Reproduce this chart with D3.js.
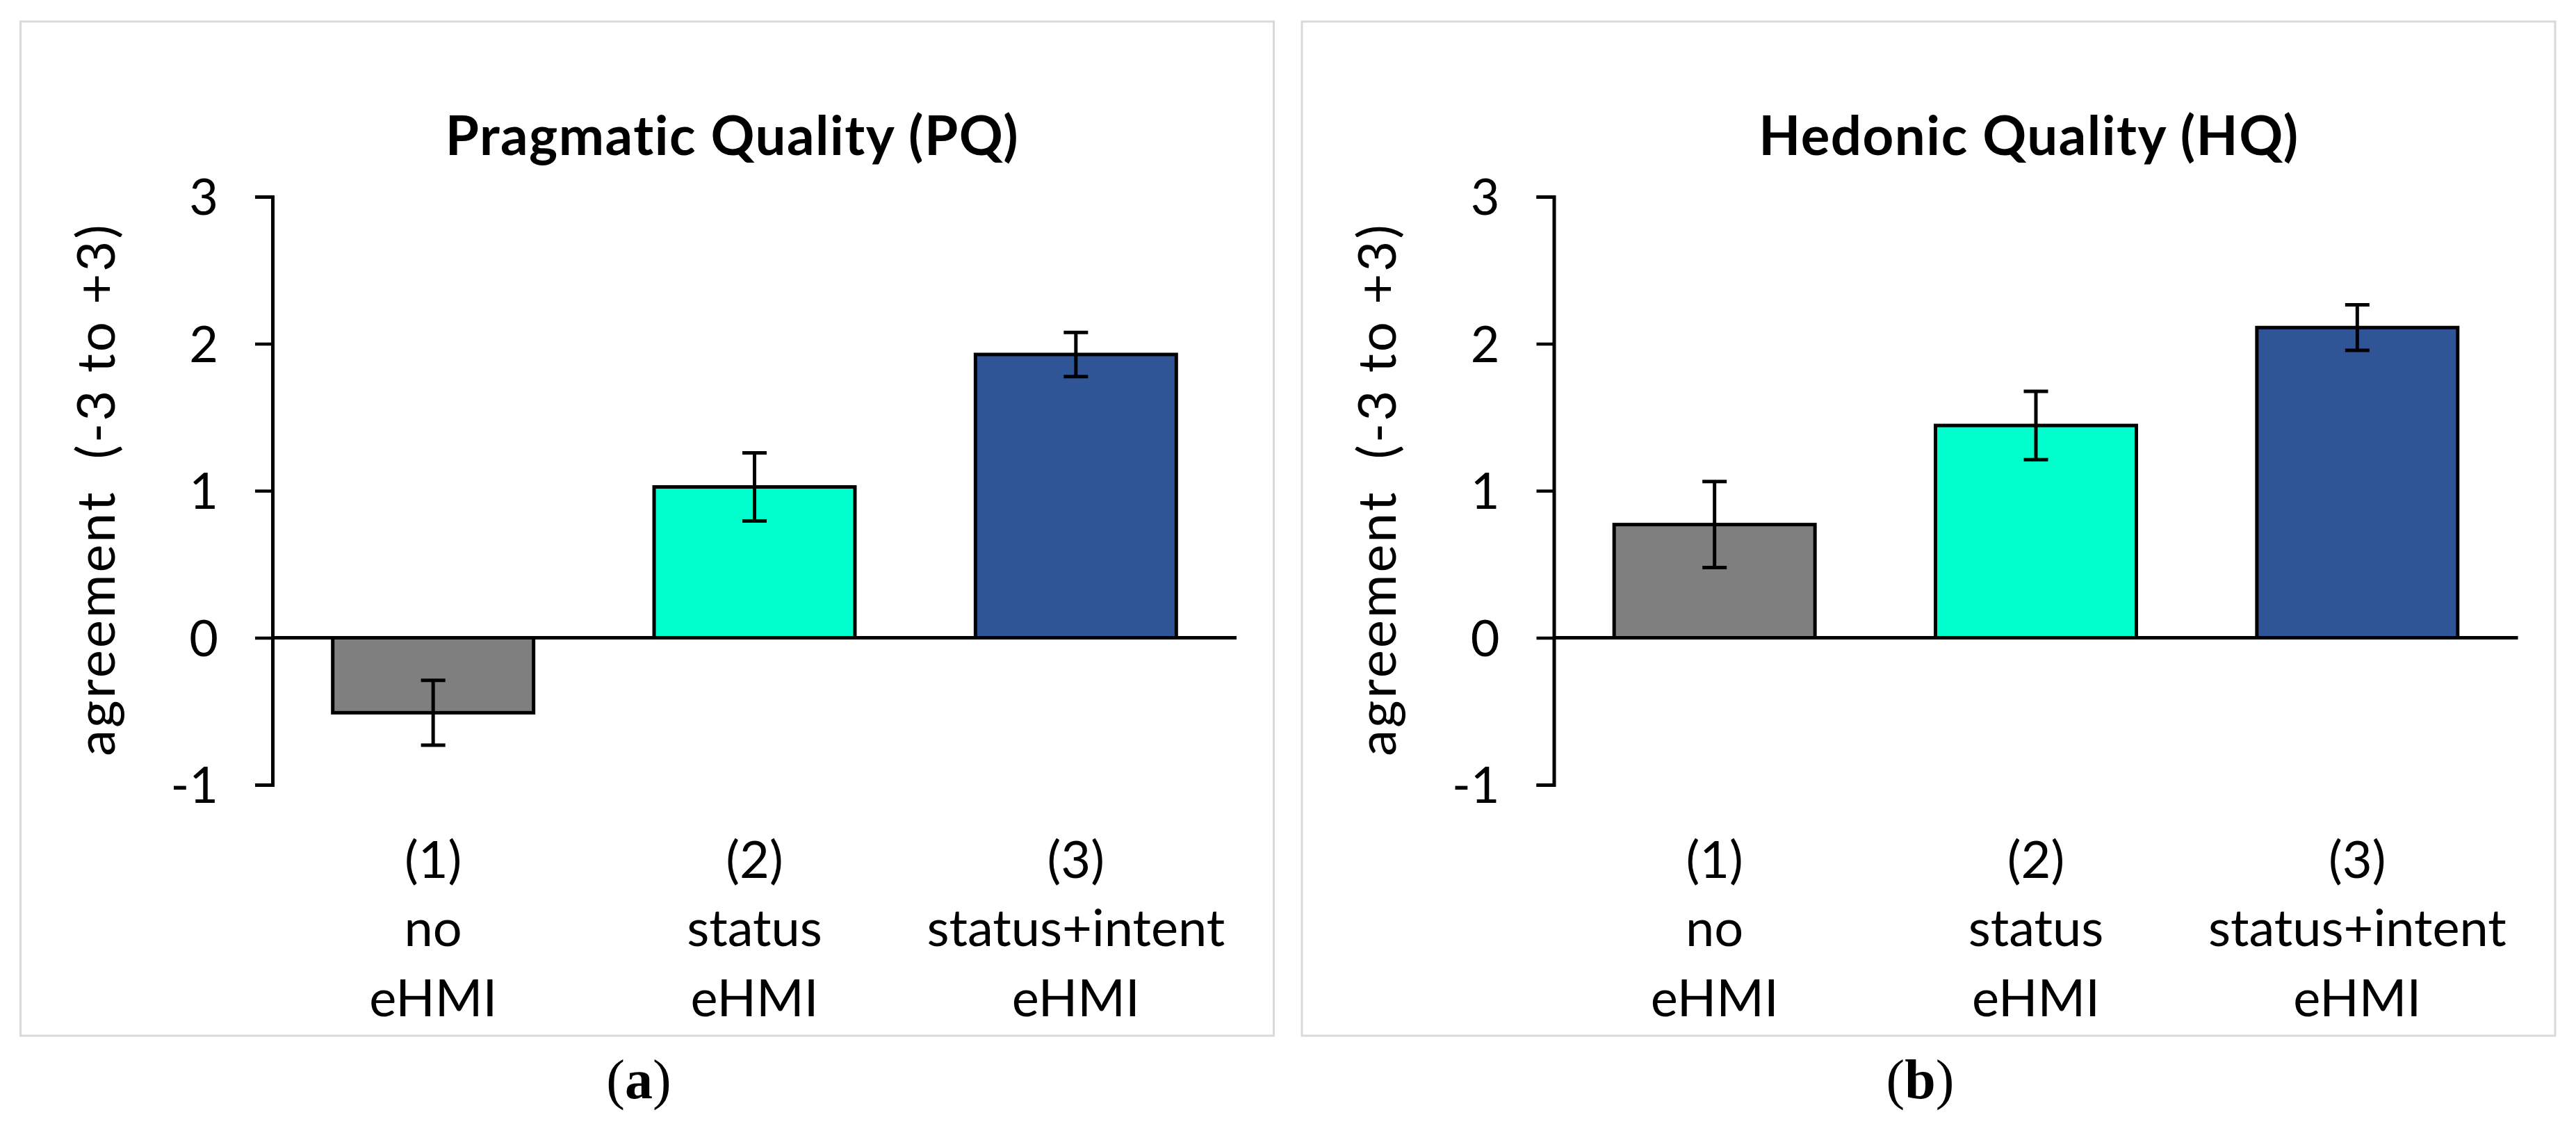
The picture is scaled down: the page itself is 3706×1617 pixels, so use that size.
<!DOCTYPE html>
<html>
<head>
<meta charset="utf-8">
<script src="https://cdn.jsdelivr.net/npm/d3@7"></script>
<style>
  html, body { margin: 0; padding: 0; background: #fff; }
  svg { display: block; }
</style>
</head>
<body>
<svg id="chart" width="3706" height="1617"></svg>
<script>
// ---- data ----
const categories = ["(1)|no|eHMI", "(2)|status|eHMI", "(3)|status+intent|eHMI"];
const barColors = ["#7f7f7f", "#00ffcc", "#2f5597"];
const yTicks = [-1, 0, 1, 2, 3];
const yTickLabels = ["-1", "0", "1", "2", "3"];
const yDomain = [-1, 3];
const yAxisTitle = "agreement  (-3 to +3)";

const pqTitle = "Pragmatic Quality (PQ)";
const pqMeans = [-0.51, 1.026, 1.927];
const pqErrors = [0.22, 0.232, 0.15];
const pqCaption = "a";

const hqTitle = "Hedonic Quality (HQ)";
const hqMeans = [0.77, 1.444, 2.11];
const hqErrors = [0.293, 0.232, 0.155];
const hqCaption = "b";

// ---- layout ----
const panels = [
  { fx: 29.5, title: pqTitle, means: pqMeans, errs: pqErrors, caption: pqCaption, titleDx: 1024 },
  { fx: 1873, title: hqTitle, means: hqMeans, errs: hqErrors, caption: hqCaption, titleDx: 1046 }
];
const frameY = 31, frameW = 1803, frameH = 1459;
const plotLeft = 362.5, plotRight = 1749.5;
const yTop = 283, yBottom = 1129;
const sans = "Lato, 'Open Sans', sans-serif";
const serif = "'Liberation Serif', 'DejaVu Serif', serif";

const svg = d3.select("#chart");

panels.forEach(p => {
  const g = svg.append("g").attr("transform", `translate(${p.fx},0)`);

  // frame
  g.append("rect")
    .attr("x", 0).attr("y", frameY)
    .attr("width", frameW).attr("height", frameH)
    .attr("fill", "none").attr("stroke", "#d9d9d9").attr("stroke-width", 3);

  const x = d3.scaleBand().domain(categories)
    .range([plotLeft, plotRight]).paddingInner(0.375).paddingOuter(0.1875);
  const y = d3.scaleLinear().domain(yDomain).range([yBottom, yTop]);

  const data = categories.map((c, i) => ({ c, v: p.means[i], e: p.errs[i], col: barColors[i] }));

  // bars
  g.selectAll("rect.bar").data(data).join("rect")
    .attr("class", "bar")
    .attr("x", d => x(d.c))
    .attr("width", x.bandwidth())
    .attr("y", d => y(Math.max(0, d.v)))
    .attr("height", d => Math.abs(y(d.v) - y(0)))
    .attr("fill", d => d.col)
    .attr("stroke", "#000").attr("stroke-width", 5);

  // error bars
  const capW = 35;
  const cx = d => x(d.c) + x.bandwidth() / 2;
  const eb = g.selectAll("g.err").data(data).join("g").attr("class", "err")
    .attr("stroke", "#000").attr("stroke-width", 5);
  eb.append("line")
    .attr("x1", cx).attr("x2", cx)
    .attr("y1", d => y(d.v + d.e)).attr("y2", d => y(d.v - d.e));
  eb.append("line")
    .attr("x1", d => cx(d) - capW / 2).attr("x2", d => cx(d) + capW / 2)
    .attr("y1", d => y(d.v + d.e)).attr("y2", d => y(d.v + d.e));
  eb.append("line")
    .attr("x1", d => cx(d) - capW / 2).attr("x2", d => cx(d) + capW / 2)
    .attr("y1", d => y(d.v - d.e)).attr("y2", d => y(d.v - d.e));

  // zero line
  g.append("line")
    .attr("x1", plotLeft).attr("x2", plotRight)
    .attr("y1", y(0)).attr("y2", y(0))
    .attr("stroke", "#000").attr("stroke-width", 5);

  // y axis
  const ya = g.append("g").attr("transform", `translate(${plotLeft},0)`)
    .call(d3.axisLeft(y).tickValues(yTicks).tickSize(25).tickPadding(53)
      .tickFormat((d, i) => yTickLabels[i]));
  ya.select(".domain").attr("stroke", "#000").attr("stroke-width", 5).attr("fill", "none");
  ya.selectAll(".tick line").attr("stroke", "#000").attr("stroke-width", 4.5);
  ya.selectAll(".tick text")
    .style("font-family", sans).style("font-size", "72px").attr("fill", "#000")
    .attr("dy", "0.36em");

  // y axis title
  g.append("text")
    .attr("transform", `translate(135,704) rotate(-90)`)
    .attr("text-anchor", "middle")
    .style("font-family", sans).style("font-size", "76px")
    .style("letter-spacing", "3px")
    .style("white-space", "pre")
    .text(yAxisTitle);

  // category labels
  const lineY = [1263, 1361, 1462];
  const cl = g.selectAll("text.cat").data(categories).join("text")
    .attr("class", "cat")
    .attr("text-anchor", "middle")
    .style("font-family", sans).style("font-size", "74px")
    .attr("fill", "#000");
  cl.each(function (c) {
    const t = d3.select(this);
    c.split("|").forEach((s, i) => {
      t.append("tspan").attr("x", x(c) + x.bandwidth() / 2).attr("y", lineY[i]).text(s);
    });
  });

  // title
  g.append("text")
    .attr("x", p.titleDx).attr("y", 223)
    .attr("text-anchor", "middle")
    .style("font-family", sans).style("font-size", "78px").style("font-weight", "bold")
    .style("letter-spacing", "1.5px")
    .text(p.title);

  // caption
  const cap = g.append("text")
    .attr("x", 889.5).attr("y", 1580)
    .attr("text-anchor", "middle")
    .style("font-family", serif).style("font-size", "80px");
  cap.append("tspan").text("(");
  cap.append("tspan").style("font-weight", "bold").text(p.caption);
  cap.append("tspan").text(")");
});
</script>
</body>
</html>
